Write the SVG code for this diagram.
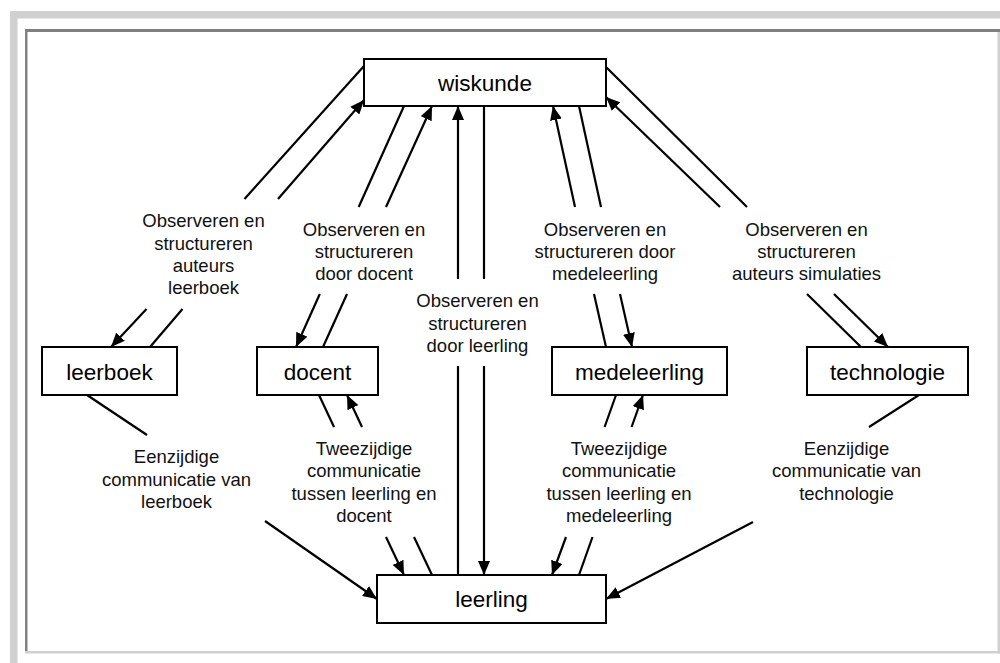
<svg xmlns="http://www.w3.org/2000/svg" width="1000" height="663" viewBox="0 0 1000 663">
  <style>
    .frame-light { fill: #d0d0d0; }
    .frame-dark { fill: #808080; }
    .box { fill: #ffffff; stroke: #000000; stroke-width: 2; }
    .name { font-family: "Liberation Sans", Arial, sans-serif; font-size: 22.5px; fill: #000000; text-anchor: middle; }
    .lbl { font-family: "Liberation Sans", Arial, sans-serif; font-size: 18.5px; fill: #111111; text-anchor: middle; }
    .edge { stroke: #000000; stroke-width: 2.2; fill: none; }
    .arrow { marker-end: url(#head); }
  </style>
  <defs>
    <marker id="head" viewBox="0 0 14 12" refX="14" refY="6" markerWidth="14" markerHeight="12" markerUnits="userSpaceOnUse" orient="auto">
      <path d="M0,0 L14,6 L0,12 z" fill="#000000"/>
    </marker>
  </defs>

  <rect width="1000" height="663" fill="#ffffff"/>

  <!-- page frame -->
  <g id="frame">
    <rect class="frame-light" x="10" y="11" width="990" height="7.5"/>
    <rect class="frame-light" x="10" y="11" width="7.5" height="652"/>
    <rect class="frame-dark" x="25" y="29" width="975" height="3"/>
    <rect class="frame-dark" x="25" y="29" width="2.5" height="624"/>
    <rect class="frame-light" x="997.5" y="32" width="2.5" height="621.5"/>
    <rect class="frame-light" x="25" y="651" width="975" height="2.5"/>
  </g>

  <!-- connectors: each relation is one straight line, interrupted where its label sits -->
  <g id="connectors">
    <!-- wiskunde / leerboek -->
    <line class="edge" x1="364" y1="66" x2="244.5" y2="199"/>
    <line class="edge arrow" x1="146.5" y1="309" x2="111" y2="347"/>
    <line class="edge" x1="150" y1="347" x2="182.5" y2="309"/>
    <line class="edge arrow" x1="278" y1="199" x2="364" y2="100"/>
    <!-- wiskunde / docent -->
    <line class="edge" x1="404" y1="106" x2="358.7" y2="207"/>
    <line class="edge arrow" x1="319.8" y1="294" x2="296" y2="347"/>
    <line class="edge" x1="323" y1="347" x2="347" y2="294"/>
    <line class="edge arrow" x1="386" y1="207" x2="432" y2="106"/>
    <!-- wiskunde / leerling -->
    <line class="edge" x1="458" y1="575" x2="458" y2="366"/>
    <line class="edge arrow" x1="458" y1="279" x2="458" y2="106"/>
    <line class="edge" x1="484" y1="106" x2="484" y2="279"/>
    <line class="edge arrow" x1="484" y1="366" x2="484" y2="575"/>
    <!-- wiskunde / medeleerling -->
    <line class="edge" x1="606" y1="347" x2="594" y2="294"/>
    <line class="edge arrow" x1="575" y1="207" x2="553" y2="106"/>
    <line class="edge" x1="579" y1="106" x2="601" y2="207"/>
    <line class="edge arrow" x1="620" y1="294" x2="632" y2="347"/>
    <!-- wiskunde / technologie -->
    <line class="edge" x1="606" y1="67" x2="747" y2="207"/>
    <line class="edge arrow" x1="834" y1="294" x2="888" y2="347"/>
    <line class="edge" x1="861" y1="347" x2="807" y2="294"/>
    <line class="edge arrow" x1="720" y1="207" x2="606" y2="97"/>
    <!-- leerboek to leerling -->
    <line class="edge" x1="87" y1="395" x2="147" y2="435"/>
    <line class="edge arrow" x1="265" y1="521" x2="377" y2="599"/>
    <!-- docent / leerling -->
    <line class="edge" x1="319" y1="395" x2="334" y2="427"/>
    <line class="edge arrow" x1="386" y1="537" x2="404" y2="575"/>
    <line class="edge" x1="432" y1="575" x2="414" y2="537"/>
    <line class="edge arrow" x1="362" y1="427" x2="347" y2="395"/>
    <!-- medeleerling / leerling -->
    <line class="edge" x1="616" y1="395" x2="604.6" y2="427"/>
    <line class="edge arrow" x1="566" y1="537" x2="552" y2="575"/>
    <line class="edge" x1="579" y1="575" x2="592.5" y2="537"/>
    <line class="edge arrow" x1="631.6" y1="427" x2="643" y2="395"/>
    <!-- technologie to leerling -->
    <line class="edge" x1="919" y1="395" x2="869" y2="427"/>
    <line class="edge arrow" x1="753" y1="522" x2="606" y2="599"/>
  </g>

  <!-- connector labels -->
  <g id="labels">
    <text class="lbl" x="203.5"><tspan x="203.5" y="227">Observeren en</tspan><tspan x="203.5" y="249.5">structureren</tspan><tspan x="203.5" y="272">auteurs</tspan><tspan x="203.5" y="294">leerboek</tspan></text>
    <text class="lbl" x="364"><tspan x="364" y="236">Observeren en</tspan><tspan x="364" y="258">structureren</tspan><tspan x="364" y="280">door docent</tspan></text>
    <text class="lbl" x="477.5"><tspan x="477.5" y="307">Observeren en</tspan><tspan x="477.5" y="329.5">structureren</tspan><tspan x="477.5" y="352">door leerling</tspan></text>
    <text class="lbl" x="605"><tspan x="605" y="236">Observeren en</tspan><tspan x="605" y="258">structureren door</tspan><tspan x="605" y="280">medeleerling</tspan></text>
    <text class="lbl" x="806.5"><tspan x="806.5" y="236">Observeren en</tspan><tspan x="806.5" y="258">structureren</tspan><tspan x="806.5" y="280">auteurs simulaties</tspan></text>
    <text class="lbl" x="176.5"><tspan x="176.5" y="463">Eenzijdige</tspan><tspan x="176.5" y="485.5">communicatie van</tspan><tspan x="176.5" y="508">leerboek</tspan></text>
    <text class="lbl" x="364"><tspan x="364" y="455">Tweezijdige</tspan><tspan x="364" y="477">communicatie</tspan><tspan x="364" y="499.5">tussen leerling en</tspan><tspan x="364" y="522">docent</tspan></text>
    <text class="lbl" x="619"><tspan x="619" y="455">Tweezijdige</tspan><tspan x="619" y="477">communicatie</tspan><tspan x="619" y="499.5">tussen leerling en</tspan><tspan x="619" y="522">medeleerling</tspan></text>
    <text class="lbl" x="846.5"><tspan x="846.5" y="455">Eenzijdige</tspan><tspan x="846.5" y="477">communicatie van</tspan><tspan x="846.5" y="499.5">technologie</tspan></text>
  </g>

  <!-- nodes -->
  <g id="wiskunde">
    <rect class="box" x="364" y="59" width="242" height="47"/>
    <text class="name" x="485" y="91">wiskunde</text>
  </g>
  <g id="leerboek">
    <rect class="box" x="42" y="347" width="135" height="48"/>
    <text class="name" x="109.5" y="380">leerboek</text>
  </g>
  <g id="docent">
    <rect class="box" x="257" y="347" width="121" height="48"/>
    <text class="name" x="317.5" y="380">docent</text>
  </g>
  <g id="medeleerling">
    <rect class="box" x="552" y="347" width="175" height="48"/>
    <text class="name" x="639.5" y="380">medeleerling</text>
  </g>
  <g id="technologie">
    <rect class="box" x="807" y="347" width="161" height="48"/>
    <text class="name" x="887.5" y="380">technologie</text>
  </g>
  <g id="leerling">
    <rect class="box" x="377" y="575" width="229" height="48"/>
    <text class="name" x="491.5" y="607">leerling</text>
  </g>
</svg>
